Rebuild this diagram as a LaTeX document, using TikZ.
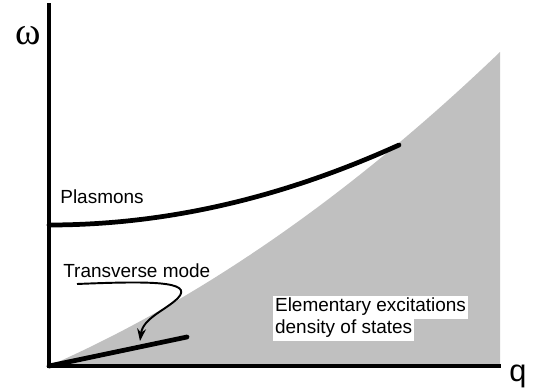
\documentclass[tikz,border=0pt]{standalone}
\usepackage{fontspec}
\setmainfont{Liberation Sans}
\newfontfamily\serifgreek{Liberation Serif}
\usetikzlibrary{arrows.meta}
\definecolor{dosgray}{RGB}{192,192,192}

\begin{document}
\begin{tikzpicture}[
  x=0.02cm, y=-0.02cm,
  lbl/.style={inner sep=0pt, font=\fontsize{10.8}{12}\selectfont, anchor=base west},
  hilite/.style={lbl, fill=white, inner xsep=1pt, inner ysep=1.5pt},
  axis/.style={line width=2.2pt, line cap=rect},
  branch/.style={line width=2.7pt, line cap=round},
  pointer/.style={line width=1.1pt, -{Stealth[length=7pt, width=5pt]}}
]
  \useasboundingbox (0,0) rectangle (537,391);

  % frame points
  \coordinate (origin) at (49,366);
  \coordinate (ytop) at (49,5);
  \coordinate (xend) at (499,366);
  \coordinate (dostop) at (500,52);

  % density of states region
  \fill[dosgray] (origin) .. controls (199,300) and (350,196) .. (dostop) -- (500,366) -- cycle;

  \draw[axis] (ytop) -- (origin) -- (xend);

  \node[inner sep=0pt, font=\serifgreek\fontsize{22}{24}\selectfont] (omega) at (28,36) {ω};
  \node[inner sep=0pt, font=\fontsize{17.5}{18}\selectfont, anchor=base west] (q) at (509,381) {q};

  % plasmon branch
  \coordinate (plA) at (49,225);
  \coordinate (plB) at (399,145);
  \draw[branch] (plA) .. controls (166,225) and (282,198) .. (plB);
  \node[lbl] (plas) at (60,204) {Plasmons};

  % transverse branch
  \coordinate (trB) at (187,337);
  \draw[branch] (origin) -- (trB);
  \node[lbl] (trans) at (63,277) {Transverse mode};
  \coordinate (arrA) at (77,284);
  \coordinate (arrB) at (140,341);
  \draw[pointer] (arrA) .. controls (150,281) and (194,281) .. (178,298)
    .. controls (166,310) and (143,318) .. (arrB);

  \node[hilite] (elem) at (273,312) {Elementary excitations};
  \node[hilite] (dens) at (273,334) {density of states};
\end{tikzpicture}
\end{document}
